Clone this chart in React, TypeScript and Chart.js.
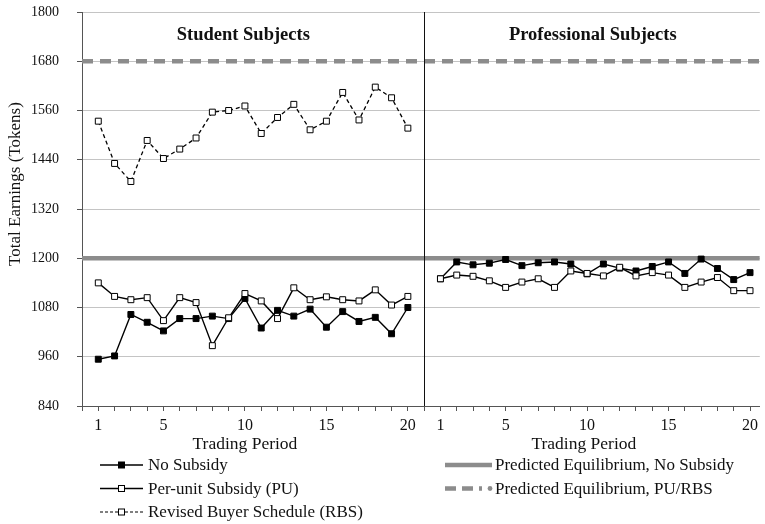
import React, { useEffect, useRef } from "react";
import { Chart, registerables } from "chart.js";

Chart.register(...registerables);

// ---------------- data ----------------
const periods = [1, 2, 3, 4, 5, 6, 7, 8, 9, 10, 11, 12, 13, 14, 15, 16, 17, 18, 19, 20];

const studentNoSubsidy = [954, 962, 1063, 1044, 1023, 1053, 1053, 1059, 1053, 1102, 1030, 1073, 1059, 1076, 1032, 1070, 1046, 1056, 1016, 1080];
const studentPU = [1140, 1107, 1099, 1104, 1048, 1104, 1092, 987, 1055, 1114, 1096, 1053, 1128, 1099, 1106, 1099, 1096, 1123, 1086, 1107];
const studentRBS = [1534, 1431, 1387, 1487, 1443, 1466, 1493, 1556, 1560, 1571, 1504, 1543, 1575, 1513, 1534, 1604, 1537, 1617, 1591, 1517];

const professionalNoSubsidy = [1150, 1191, 1184, 1188, 1197, 1182, 1189, 1191, 1186, 1162, 1186, 1176, 1169, 1180, 1191, 1163, 1198, 1175, 1148, 1165];
const professionalPU = [1150, 1159, 1156, 1145, 1129, 1142, 1150, 1129, 1169, 1163, 1157, 1178, 1157, 1165, 1159, 1129, 1142, 1153, 1121, 1121];

const equilibriumNoSubsidy = 1200;
const equilibriumPURBS = 1680;

const yTicks = [840, 960, 1080, 1200, 1320, 1440, 1560, 1680, 1800];
const xTickLabels = [1, 5, 10, 15, 20];

const panelTitles = ["Student Subjects", "Professional Subjects"];
const xAxisTitle = "Trading Period";
const yAxisTitle = "Total Earnings (Tokens)";
const legendLabels = [
  "No Subsidy",
  "Per-unit Subsidy (PU)",
  "Revised Buyer Schedule (RBS)",
  "Predicted Equilibrium, No Subsidy",
  "Predicted Equilibrium, PU/RBS",
];

// right panel periods are placed after the left panel (20 periods + 1 gap)
const panelOffset = 21;
const xMax = 41.6;

const SERIF = '"Liberation Serif", "Times New Roman", serif';
const GRAY = "#8c8c8c";

const toPoints = (vals: number[], offset: number) =>
  periods.map((p, i) => ({ x: p + offset, y: vals[i] }));

const overlayPlugin = {
  id: "overlay",
  afterDraw(chart: any) {
    const { ctx, chartArea, scales } = chart;
    const xs = scales.x;
    ctx.save();

    // panel divider
    const dx = Math.round(xs.getPixelForValue(panelOffset)) + 0.5;
    ctx.strokeStyle = "#111";
    ctx.lineWidth = 1;
    ctx.beginPath();
    ctx.moveTo(dx, chartArea.top);
    ctx.lineTo(dx, chartArea.bottom);
    ctx.stroke();

    // panel titles
    ctx.fillStyle = "#111";
    ctx.textAlign = "center";
    ctx.textBaseline = "alphabetic";
    ctx.font = `bold 18.5px ${SERIF}`;
    ctx.fillText(panelTitles[0], xs.getPixelForValue(9.9), 39.5);
    ctx.fillText(panelTitles[1], xs.getPixelForValue(31.35), 39.5);

    // x axis titles
    ctx.font = `17.5px ${SERIF}`;
    ctx.fillText(xAxisTitle, xs.getPixelForValue(10), 449);
    ctx.fillText(xAxisTitle, xs.getPixelForValue(30.8), 449);

    // y axis title
    ctx.save();
    ctx.translate(16, 184);
    ctx.rotate(-Math.PI / 2);
    ctx.textBaseline = "middle";
    ctx.font = `17px ${SERIF}`;
    ctx.fillText(yAxisTitle, 0, 0);
    ctx.restore();

    // legend
    const rows = [465, 488.5, 512];
    const drawSquare = (x: number, y: number, filled: boolean) => {
      ctx.setLineDash([]);
      ctx.lineWidth = 1;
      ctx.fillStyle = filled ? "#000" : "#fff";
      ctx.strokeStyle = "#000";
      ctx.fillRect(x - 3, y - 3, 6, 6);
      ctx.strokeRect(x - 3, y - 3, 6, 6);
    };
    const drawSeg = (x0: number, x1: number, y: number, w: number, color: string, dash: number[]) => {
      ctx.setLineDash(dash);
      ctx.lineWidth = w;
      ctx.strokeStyle = color;
      ctx.beginPath();
      ctx.moveTo(x0, y);
      ctx.lineTo(x1, y);
      ctx.stroke();
      ctx.setLineDash([]);
    };
    // left column
    drawSeg(100, 143, rows[0], 1.4, "#000", []);
    drawSquare(121.5, rows[0], true);
    drawSeg(100, 143, rows[1], 1.4, "#000", []);
    drawSquare(121.5, rows[1], false);
    drawSeg(100, 143, rows[2], 1.2, "#000", [3, 2]);
    drawSquare(121.5, rows[2], false);
    // right column
    drawSeg(445, 492, rows[0], 4.5, GRAY, []);
    drawSeg(445, 482, rows[1], 4.5, GRAY, [11, 6]);
    ctx.fillStyle = GRAY;
    ctx.beginPath();
    ctx.arc(490, rows[1], 2.4, 0, Math.PI * 2);
    ctx.fill();

    ctx.fillStyle = "#111";
    ctx.textAlign = "left";
    ctx.textBaseline = "middle";
    ctx.font = `17px ${SERIF}`;
    ctx.fillText(legendLabels[0], 148, rows[0] + 1);
    ctx.fillText(legendLabels[1], 148, rows[1] + 1);
    ctx.fillText(legendLabels[2], 148, rows[2] + 1);
    ctx.fillText(legendLabels[3], 495, rows[0] + 1);
    ctx.fillText(legendLabels[4], 495, rows[1] + 1);

    ctx.restore();
  },
};

export default function App() {
  const canvasRef = useRef<HTMLCanvasElement | null>(null);

  useEffect(() => {
    document.body.style.margin = "0";
    const canvas = canvasRef.current;
    if (!canvas) return;

    const seriesStyle = (filled: boolean, dashed: boolean) => ({
      borderColor: "#000",
      borderWidth: dashed ? 1.3 : 1.4,
      borderDash: dashed ? [4, 3] : [],
      pointStyle: "rect",
      pointRadius: 4.2,
      pointBackgroundColor: filled ? "#000" : "#fff",
      pointBorderColor: "#000",
      pointBorderWidth: 1,
      tension: 0,
      fill: false,
    });

    const chart = new Chart(canvas, {
      type: "line",
      data: {
        datasets: [
          { label: legendLabels[1], data: toPoints(studentPU, 0), ...seriesStyle(false, false), order: 1 },
          { label: legendLabels[1], data: toPoints(professionalPU, panelOffset), ...seriesStyle(false, false), order: 1 },
          { label: legendLabels[2], data: toPoints(studentRBS, 0), ...seriesStyle(false, true), order: 2 },
          { label: legendLabels[0], data: toPoints(studentNoSubsidy, 0), ...seriesStyle(true, false), order: 3 },
          { label: legendLabels[0], data: toPoints(professionalNoSubsidy, panelOffset), ...seriesStyle(true, false), order: 3 },
          {
            label: legendLabels[3],
            data: [
              { x: 0, y: equilibriumNoSubsidy },
              { x: xMax, y: equilibriumNoSubsidy },
            ],
            borderColor: GRAY,
            borderWidth: 4.5,
            pointRadius: 0,
            order: 10,
          },
          {
            label: legendLabels[4],
            data: [
              { x: 0, y: equilibriumPURBS },
              { x: xMax, y: equilibriumPURBS },
            ],
            borderColor: GRAY,
            borderWidth: 4.5,
            borderDash: [11, 7],
            pointRadius: 0,
            order: 10,
          },
        ] as any,
      },
      options: {
        responsive: false,
        maintainAspectRatio: false,
        animation: false,
        layout: { padding: { top: 12, left: 0, right: 0, bottom: 0 } },
        plugins: {
          legend: { display: false },
          title: { display: false },
          tooltip: { enabled: false },
        },
        scales: {
          x: {
            type: "linear",
            min: 0,
            max: xMax,
            afterBuildTicks: (s: any) => {
              const t: any[] = [];
              for (let i = 0; i <= Math.floor(xMax); i++) t.push({ value: i });
              s.ticks = t;
            },
            afterFit: (s: any) => {
              s.height = 118;
              s.paddingLeft = 0;
              s.paddingRight = 0;
            },
            ticks: {
              autoSkip: false,
              maxRotation: 0,
              padding: 5,
              color: "#111",
              font: { family: SERIF, size: 16 },
              callback: (v: any) => {
                const n = Number(v);
                if (n === panelOffset || n === 0) return "";
                const p = n > panelOffset ? n - panelOffset : n;
                return xTickLabels.includes(p) ? String(p) : "";
              },
            },
            grid: { drawOnChartArea: false, drawTicks: true, tickLength: 5, tickColor: "#555" },
            border: { display: true, color: "#555", width: 1 },
          },
          y: {
            min: 840,
            max: 1800,
            afterBuildTicks: (s: any) => {
              s.ticks = yTicks.map((v) => ({ value: v }));
            },
            afterFit: (s: any) => {
              s.width = 82;
              s.paddingTop = 0;
              s.paddingBottom = 0;
            },
            ticks: {
              padding: 18,
              color: "#111",
              font: { family: SERIF, size: 14 },
              callback: (v: any) => String(v),
            },
            grid: { color: "#c4c4c4", tickColor: "#555", tickLength: 5, lineWidth: 1 },
            border: { display: true, color: "#555", width: 1 },
          },
        },
      } as any,
      plugins: [overlayPlugin],
    });

    return () => chart.destroy();
  }, []);

  return (
    <div style={{ width: 765, height: 524, position: "relative", background: "#fff" }}>
      <canvas ref={canvasRef} width={765} height={524} style={{ display: "block" }} />
    </div>
  );
}
